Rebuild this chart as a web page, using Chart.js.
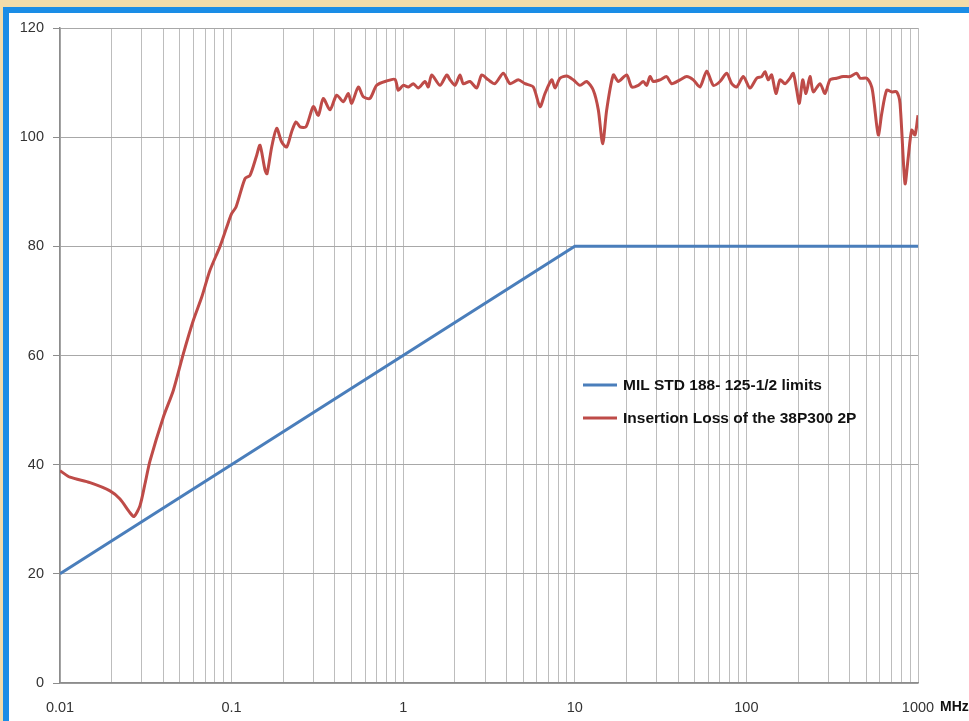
<!DOCTYPE html>
<html>
<head>
<meta charset="utf-8">
<script src="https://cdn.jsdelivr.net/npm/chart.js@4/dist/chart.umd.min.js"></script>
<style>
  html, body { margin: 0; padding: 0; }
  body { width: 969px; height: 721px; overflow: hidden; position: relative; background: #f2dcaa; }
  #frame { position: absolute; left: 3px; top: 7px; width: 980px; height: 730px; background: #fff;
           border-top: 6px solid #1a8de6; border-left: 6px solid #1a8de6; }
  #chart { position: absolute; left: 0; top: 0; }
</style>
</head>
<body>
<div id="frame"></div>
<canvas id="chart" width="969" height="721"></canvas>
<script>
// MIL STD limit line (MHz, dB)
const limitFreq = [0.01, 10, 1000];
const limitDb = [20, 80, 80];

// measured insertion loss (MHz, dB)
const lossFreq = [
  0.01, 0.01144, 0.01496, 0.01956, 0.02237, 0.02558, 0.0270, 0.02925, 0.03128, 0.03346,
  0.0400, 0.04574, 0.05231, 0.0598, 0.0670, 0.0748, 0.0856, 0.0936, 0.100, 0.1061,
  0.1197, 0.1280, 0.1401, 0.1464, 0.1565, 0.1608, 0.1713, 0.1831, 0.1959, 0.2095,
  0.2239, 0.2373, 0.2504, 0.2714, 0.2993, 0.3201, 0.3422, 0.3744, 0.4097, 0.4477,
  0.4787, 0.5010, 0.5474, 0.5854, 0.6405, 0.7005, 0.8013, 0.8956, 0.9363, 1.00,
  1.071, 1.145, 1.225, 1.340, 1.400, 1.466, 1.639, 1.792, 1.874, 2.004,
  2.143, 2.239, 2.451, 2.681, 2.867, 3.132, 3.426, 3.831, 4.192, 4.685,
  5.126, 5.730, 6.269, 6.704, 7.335, 7.667, 8.199, 8.970, 9.80, 10.72,
  11.73, 12.82, 13.71, 14.54, 15.34, 16.77, 17.92, 20.06, 21.46, 23.45,
  25.07, 26.24, 27.43, 28.67, 31.37, 34.31, 36.69, 41.03, 44.88, 49.05,
  53.65, 58.70, 64.16, 70.17, 76.77, 82.11, 87.80, 95.94, 105.0, 114.8,
  122.8, 128.3, 134.1, 140.4, 148.7, 157.0, 167.9, 179.5, 187.6, 196.4,
  203.4, 212.9, 222.5, 234.7, 245.4, 268.5, 287.1, 307.0, 335.9, 367.0,
  401.5, 439.3, 459.2, 502.3, 537.3, 554.0, 586.9, 614.5, 657.1, 702.5,
  751.4, 785.5, 840.1, 877.8, 918.9, 960.5, 1000
];
const lossDb = [
  38.9, 37.7, 36.7, 35.2, 33.7, 31.2, 30.5, 32.5, 36.5, 40.7,
  48.7, 53.6, 60.3, 66.4, 70.7, 75.6, 80.0, 83.5, 86.0, 87.2,
  92.4, 93.0, 96.7, 98.5, 94.0, 93.3, 98.2, 101.6, 99.1, 98.2,
  101.0, 102.8, 101.9, 101.9, 105.6, 104.0, 107.1, 105.0, 107.7, 106.5,
  108.0, 106.2, 109.2, 107.4, 107.1, 109.5, 110.3, 110.6, 108.6, 109.5,
  109.2, 109.8, 109.0, 110.2, 109.2, 111.4, 109.5, 111.4, 110.5, 109.5,
  111.4, 109.8, 110.2, 109.0, 111.4, 110.5, 109.8, 111.7, 109.8, 110.5,
  109.8, 109.2, 105.6, 108.0, 110.5, 109.0, 110.8, 111.2, 110.5, 109.5,
  110.2, 108.6, 105.0, 98.8, 105.0, 111.4, 110.2, 111.4, 109.2, 109.5,
  110.2, 109.5, 111.1, 110.2, 110.5, 111.1, 109.8, 110.5, 111.1, 110.5,
  109.2, 112.1, 109.5, 110.2, 111.7, 109.8, 109.2, 111.1, 109.0, 110.8,
  111.1, 112.0, 110.5, 111.4, 108.0, 110.5, 109.8, 110.8, 111.7, 108.6,
  106.2, 110.5, 108.0, 111.1, 108.3, 109.8, 108.0, 110.5, 110.8, 111.1,
  111.1, 111.7, 110.8, 110.8, 109.2, 106.5, 100.4, 104.3, 108.6, 108.3,
  108.3, 106.2, 91.5, 96.4, 101.3, 100.4, 104.0
];

const xTickLabels = ['0.01', '0.1', '1', '10', '100', '1000'];
const yTicks = [0, 20, 40, 60, 80, 100, 120];
const seriesLabels = ['MIL STD 188- 125-1/2 limits', 'Insertion Loss of the 38P300 2P'];
const unitLabel = 'MHz';

const toPoints = (xs, ys) => xs.map((x, i) => ({ x: x, y: ys[i] }));

Chart.defaults.font.family = '"Liberation Sans", Arial, sans-serif';

const insideLegend = {
  id: 'insideLegend',
  afterDraw(chart) {
    const ctx = chart.ctx;
    const x0 = 583, y0 = 385, gap = 33;
    ctx.save();
    ctx.font = 'bold 15.5px "Liberation Sans", Arial, sans-serif';
    ctx.textBaseline = 'middle';
    chart.data.datasets.forEach((ds, i) => {
      const y = y0 + i * gap;
      ctx.strokeStyle = ds.borderColor;
      ctx.lineWidth = 3;
      ctx.beginPath();
      ctx.moveTo(x0, y);
      ctx.lineTo(x0 + 34, y);
      ctx.stroke();
      ctx.fillStyle = '#111';
      ctx.fillText(ds.label, x0 + 40, y + 1);
    });
    // unit after the last x label
    ctx.font = 'bold 14px "Liberation Sans", Arial, sans-serif';
    ctx.fillStyle = '#111';
    ctx.fillText(unitLabel, chart.chartArea.right + 22, 707);
    ctx.restore();
  }
};

new Chart(document.getElementById('chart'), {
  type: 'line',
  data: {
    datasets: [
      {
        label: seriesLabels[0],
        data: toPoints(limitFreq, limitDb),
        borderColor: '#4a7ebb',
        borderWidth: 3,
        pointRadius: 0,
        tension: 0,
      },
      {
        label: seriesLabels[1],
        data: toPoints(lossFreq, lossDb),
        borderColor: '#be4b48',
        borderWidth: 3,
        pointRadius: 0,
        tension: 0.25,
      },
    ],
  },
  options: {
    responsive: false,
    animation: false,
    layout: { padding: { left: 0, top: 28, right: 51, bottom: 0 } },
    plugins: { legend: { display: false }, tooltip: { enabled: false } },
    scales: {
      x: {
        type: 'logarithmic',
        min: 0.01,
        max: 1000,
        afterBuildTicks(scale) {
          const vals = [];
          for (let e = -2; e < 3; e++) {
            for (let m = 1; m < 10; m++) vals.push(+(m * Math.pow(10, e)).toPrecision(3));
          }
          vals.push(1000);
          scale.ticks = vals.map(v => ({ value: v }));
        },
        afterFit(scale) { scale.height = 38; },
        grid: { color: '#bdbdbd', lineWidth: 1, drawTicks: false },
        border: { color: '#8c8c8c', width: 1.5 },
        ticks: {
          autoSkip: false,
          maxRotation: 0,
          padding: 16,
          color: '#333',
          font: { size: 14.5 },
          callback(v) {
            const l = Math.log10(v);
            return Math.abs(l - Math.round(l)) < 1e-6 ? xTickLabels[Math.round(l) + 2] : '';
          },
        },
      },
      y: {
        min: 0,
        max: 120,
        afterBuildTicks(scale) { scale.ticks = yTicks.map(v => ({ value: v })); },
        afterFit(scale) { scale.width = 60; },
        grid: { color: '#a8a8a8', lineWidth: 1, tickLength: 7, tickColor: '#8c8c8c' },
        border: { color: '#8c8c8c', width: 1.5 },
        ticks: { padding: 9, color: '#333', font: { size: 14.5 } },
      },
    },
  },
  plugins: [insideLegend],
});
</script>
</body>
</html>
